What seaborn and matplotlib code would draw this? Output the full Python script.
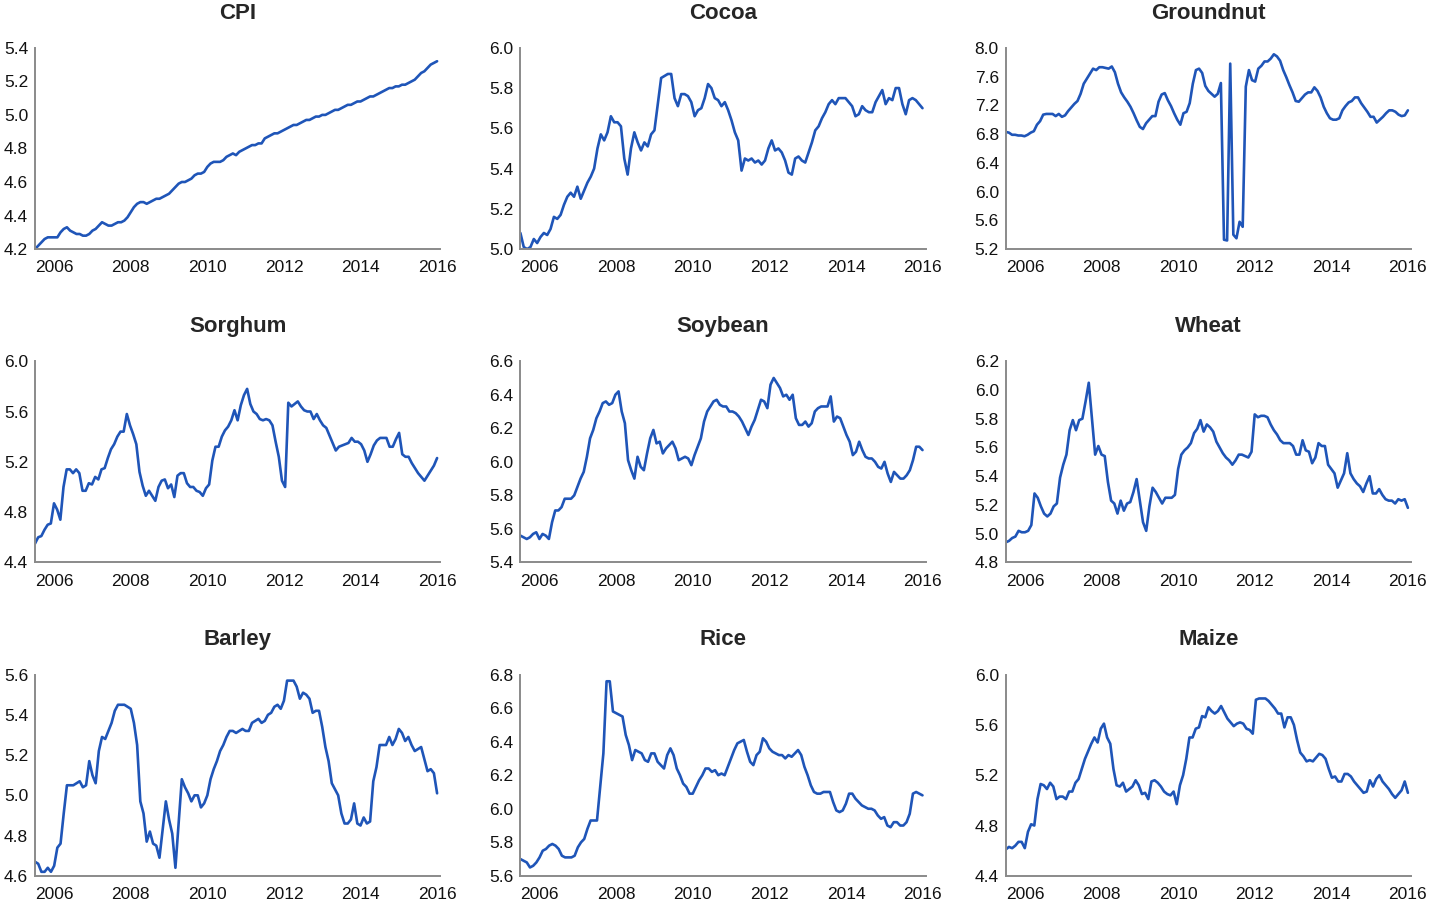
import matplotlib
matplotlib.use("Agg")
import matplotlib.pyplot as plt
import matplotlib.dates as mdates
import matplotlib.ticker as mticker
import seaborn as sns
import pandas as pd
import numpy as np

# monthly log index values, Jul 2005 .. Jan 2016
cpi = [4.20, 4.22, 4.24, 4.26, 4.27, 4.27,
       4.27, 4.27, 4.30, 4.32, 4.33, 4.31, 4.30, 4.29, 4.29, 4.28, 4.28, 4.29,
       4.31, 4.32, 4.34, 4.36, 4.35, 4.34, 4.34, 4.35, 4.36, 4.36, 4.37, 4.39,
       4.42, 4.45, 4.47, 4.48, 4.48, 4.47, 4.48, 4.49, 4.50, 4.50, 4.51, 4.52,
       4.53, 4.55, 4.57, 4.59, 4.60, 4.60, 4.61, 4.62, 4.64, 4.65, 4.65, 4.66,
       4.69, 4.71, 4.72, 4.72, 4.72, 4.73, 4.75, 4.76, 4.77, 4.76, 4.78, 4.79,
       4.80, 4.81, 4.82, 4.82, 4.83, 4.83, 4.86, 4.87, 4.88, 4.89, 4.89, 4.90,
       4.91, 4.92, 4.93, 4.94, 4.94, 4.95, 4.96, 4.97, 4.97, 4.98, 4.99, 4.99,
       5.00, 5.00, 5.01, 5.02, 5.03, 5.03, 5.04, 5.05, 5.06, 5.06, 5.07, 5.08,
       5.08, 5.09, 5.10, 5.11, 5.11, 5.12, 5.13, 5.14, 5.15, 5.16, 5.16, 5.17,
       5.17, 5.18, 5.18, 5.19, 5.20, 5.21, 5.23, 5.25, 5.26, 5.28, 5.30, 5.31,
       5.32]

cocoa = [5.08, 5.01, 5.00, 5.01, 5.05, 5.03, 5.06, 5.08, 5.07, 5.10, 5.16, 5.15,
         5.17, 5.22, 5.26, 5.28, 5.26, 5.31, 5.25, 5.29, 5.33, 5.36, 5.40, 5.50,
         5.57, 5.54, 5.58, 5.66, 5.63, 5.63, 5.61, 5.45, 5.37, 5.50, 5.58, 5.53,
         5.49, 5.53, 5.51, 5.57, 5.59, 5.72, 5.85, 5.86, 5.87, 5.87, 5.75, 5.71,
         5.77, 5.77, 5.76, 5.73, 5.66, 5.69, 5.70, 5.75, 5.82, 5.80, 5.75, 5.74,
         5.71, 5.73, 5.69, 5.64, 5.58, 5.54, 5.39, 5.45, 5.44, 5.45, 5.43, 5.44,
         5.42, 5.44, 5.50, 5.54, 5.49, 5.50, 5.48, 5.44, 5.38, 5.37, 5.45, 5.46,
         5.44, 5.43, 5.48, 5.53, 5.59, 5.61, 5.65, 5.68, 5.72, 5.74, 5.72, 5.75,
         5.75, 5.75, 5.73, 5.71, 5.66, 5.67, 5.71, 5.69, 5.68, 5.68, 5.73, 5.76,
         5.79, 5.72, 5.75, 5.74, 5.80, 5.80, 5.72, 5.67, 5.74, 5.75, 5.74, 5.72,
         5.70]

groundnut = [6.83, 6.82, 6.79, 6.79, 6.78, 6.78, 6.77, 6.79, 6.82, 6.84, 6.93, 6.98,
             7.07, 7.08, 7.08, 7.08, 7.05, 7.08, 7.04, 7.06, 7.12, 7.17, 7.22, 7.26,
             7.36, 7.50, 7.57, 7.64, 7.71, 7.69, 7.73, 7.73, 7.72, 7.71, 7.74, 7.66,
             7.50, 7.38, 7.31, 7.25, 7.18, 7.09, 6.99, 6.90, 6.87, 6.95, 7.00, 7.05,
             7.05, 7.25, 7.35, 7.37, 7.27, 7.19, 7.09, 7.00, 6.93, 7.09, 7.11, 7.23,
             7.50, 7.69, 7.71, 7.65, 7.47, 7.40, 7.36, 7.32, 7.36, 7.51, 5.33, 5.32,
             7.78, 5.40, 5.35, 5.58, 5.51, 7.46, 7.69, 7.55, 7.53, 7.71, 7.75, 7.81,
             7.81, 7.85, 7.91, 7.88, 7.82, 7.69, 7.59, 7.48, 7.38, 7.26, 7.25, 7.30,
             7.35, 7.38, 7.38, 7.45, 7.40, 7.31, 7.18, 7.09, 7.02, 7.00, 7.00, 7.02,
             7.13, 7.19, 7.24, 7.26, 7.31, 7.31, 7.23, 7.17, 7.11, 7.04, 7.04, 6.96,
             7.00, 7.04, 7.09, 7.13, 7.13, 7.11, 7.07, 7.05, 7.06, 7.13]

sorghum = [4.55, 4.60, 4.61, 4.66, 4.70, 4.71, 4.87, 4.82, 4.74, 5.00, 5.14, 5.14,
           5.11, 5.14, 5.11, 4.97, 4.97, 5.03, 5.02, 5.08, 5.06, 5.14, 5.15, 5.23,
           5.30, 5.34, 5.40, 5.44, 5.44, 5.58, 5.49, 5.42, 5.34, 5.12, 5.01, 4.93,
           4.97, 4.93, 4.89, 5.00, 5.05, 5.06, 4.99, 5.02, 4.92, 5.09, 5.11, 5.11,
           5.03, 5.00, 5.00, 4.97, 4.96, 4.93, 4.99, 5.02, 5.21, 5.32, 5.32, 5.40,
           5.45, 5.48, 5.53, 5.61, 5.53, 5.65, 5.73, 5.78, 5.66, 5.60, 5.58, 5.54,
           5.53, 5.54, 5.53, 5.49, 5.36, 5.24, 5.05, 5.00, 5.67, 5.64, 5.66, 5.68,
           5.64, 5.61, 5.60, 5.60, 5.54, 5.58, 5.53, 5.49, 5.47, 5.41, 5.35, 5.29,
           5.32, 5.33, 5.34, 5.35, 5.39, 5.36, 5.36, 5.34, 5.29, 5.20, 5.26, 5.33,
           5.37, 5.39, 5.39, 5.39, 5.32, 5.32, 5.38, 5.43, 5.26, 5.24, 5.24, 5.19,
           5.15, 5.11, 5.08, 5.05, 5.09, 5.13, 5.17, 5.23]

soybean = [5.56, 5.55, 5.54, 5.55, 5.57, 5.58, 5.54, 5.57, 5.56, 5.54, 5.64, 5.71,
           5.71, 5.73, 5.78, 5.78, 5.78, 5.80, 5.85, 5.90, 5.94, 6.03, 6.14, 6.19,
           6.26, 6.30, 6.35, 6.36, 6.34, 6.35, 6.40, 6.42, 6.30, 6.23, 6.01, 5.95,
           5.90, 6.03, 5.97, 5.95, 6.05, 6.14, 6.19, 6.11, 6.12, 6.05, 6.08, 6.10,
           6.12, 6.08, 6.01, 6.02, 6.03, 6.02, 5.98, 6.04, 6.09, 6.14, 6.24, 6.30,
           6.33, 6.36, 6.37, 6.34, 6.33, 6.33, 6.30, 6.30, 6.29, 6.27, 6.24, 6.20,
           6.16, 6.21, 6.25, 6.31, 6.37, 6.36, 6.32, 6.46, 6.50, 6.47, 6.44, 6.39,
           6.40, 6.37, 6.40, 6.26, 6.22, 6.22, 6.24, 6.21, 6.23, 6.30, 6.32, 6.33,
           6.33, 6.33, 6.39, 6.24, 6.27, 6.26, 6.21, 6.16, 6.12, 6.04, 6.06, 6.12,
           6.07, 6.03, 6.02, 6.02, 6.00, 5.97, 5.96, 6.00, 5.93, 5.88, 5.94, 5.92,
           5.90, 5.90, 5.92, 5.95, 6.01, 6.09, 6.09, 6.07]

wheat = [4.94, 4.95, 4.97, 4.98, 5.02, 5.01, 5.01, 5.02, 5.06, 5.28, 5.25, 5.19,
         5.14, 5.12, 5.14, 5.19, 5.21, 5.39, 5.48, 5.55, 5.72, 5.79, 5.72, 5.79,
         5.80, 5.92, 6.05, 5.80, 5.55, 5.61, 5.55, 5.54, 5.36, 5.23, 5.21, 5.14,
         5.23, 5.16, 5.21, 5.22, 5.29, 5.38, 5.23, 5.08, 5.02, 5.19, 5.32, 5.29,
         5.25, 5.21, 5.25, 5.25, 5.25, 5.27, 5.45, 5.55, 5.58, 5.60, 5.63, 5.70,
         5.73, 5.79, 5.71, 5.76, 5.74, 5.71, 5.64, 5.60, 5.56, 5.53, 5.51, 5.48,
         5.51, 5.55, 5.55, 5.54, 5.53, 5.57, 5.83, 5.81, 5.82, 5.82, 5.81, 5.76,
         5.72, 5.69, 5.65, 5.63, 5.63, 5.63, 5.61, 5.55, 5.55, 5.65, 5.58, 5.57,
         5.49, 5.53, 5.63, 5.61, 5.61, 5.48, 5.45, 5.42, 5.32, 5.37, 5.42, 5.56,
         5.42, 5.38, 5.35, 5.33, 5.29, 5.35, 5.40, 5.28, 5.28, 5.31, 5.27, 5.24,
         5.23, 5.23, 5.21, 5.24, 5.23, 5.24, 5.18]

barley = [4.67, 4.66, 4.62, 4.62, 4.64, 4.62, 4.65, 4.74, 4.76, 4.91, 5.05, 5.05,
          5.05, 5.06, 5.07, 5.04, 5.05, 5.17, 5.10, 5.06, 5.22, 5.29, 5.28, 5.32,
          5.36, 5.42, 5.45, 5.45, 5.45, 5.44, 5.43, 5.36, 5.25, 4.97, 4.91, 4.77,
          4.82, 4.76, 4.75, 4.69, 4.83, 4.97, 4.88, 4.81, 4.64, 4.86, 5.08, 5.04,
          5.01, 4.97, 5.00, 5.00, 4.94, 4.96, 5.00, 5.08, 5.13, 5.17, 5.22, 5.25,
          5.29, 5.32, 5.32, 5.31, 5.32, 5.33, 5.32, 5.32, 5.36, 5.37, 5.38, 5.36,
          5.37, 5.40, 5.41, 5.44, 5.45, 5.43, 5.47, 5.57, 5.57, 5.57, 5.54, 5.48,
          5.51, 5.50, 5.48, 5.41, 5.42, 5.42, 5.34, 5.24, 5.17, 5.06, 5.03, 5.00,
          4.91, 4.86, 4.86, 4.88, 4.96, 4.86, 4.85, 4.89, 4.86, 4.87, 5.07, 5.14,
          5.25, 5.25, 5.25, 5.29, 5.25, 5.28, 5.33, 5.31, 5.27, 5.29, 5.25, 5.22,
          5.23, 5.24, 5.18, 5.12, 5.13, 5.11, 5.01]

rice = [5.70, 5.69, 5.68, 5.65, 5.66, 5.68, 5.71, 5.75, 5.76, 5.78, 5.79, 5.78,
        5.76, 5.72, 5.71, 5.71, 5.71, 5.72, 5.77, 5.80, 5.82, 5.88, 5.93, 5.93,
        5.93, 6.13, 6.33, 6.76, 6.76, 6.58, 6.57, 6.56, 6.55, 6.44, 6.38, 6.29,
        6.35, 6.34, 6.33, 6.29, 6.28, 6.33, 6.33, 6.28, 6.26, 6.24, 6.32, 6.36,
        6.32, 6.24, 6.20, 6.15, 6.13, 6.09, 6.09, 6.13, 6.17, 6.20, 6.24, 6.24,
        6.22, 6.23, 6.20, 6.21, 6.20, 6.25, 6.30, 6.35, 6.39, 6.40, 6.41, 6.34,
        6.28, 6.26, 6.32, 6.34, 6.42, 6.40, 6.36, 6.34, 6.33, 6.32, 6.32, 6.30,
        6.32, 6.31, 6.33, 6.35, 6.32, 6.25, 6.20, 6.14, 6.10, 6.09, 6.09, 6.10,
        6.10, 6.10, 6.04, 5.99, 5.98, 5.99, 6.03, 6.09, 6.09, 6.06, 6.04, 6.02,
        6.01, 6.00, 6.00, 5.99, 5.96, 5.94, 5.95, 5.90, 5.89, 5.92, 5.92, 5.90,
        5.90, 5.92, 5.97, 6.09, 6.10, 6.09, 6.08]

maize = [4.61, 4.63, 4.62, 4.64, 4.67, 4.67, 4.62, 4.75, 4.81, 4.80, 5.01, 5.13,
         5.12, 5.09, 5.14, 5.11, 5.01, 5.03, 5.03, 5.01, 5.07, 5.07, 5.14, 5.17,
         5.25, 5.33, 5.39, 5.45, 5.50, 5.46, 5.57, 5.61, 5.50, 5.45, 5.25, 5.12,
         5.11, 5.14, 5.07, 5.09, 5.11, 5.16, 5.12, 5.05, 5.06, 5.01, 5.15, 5.16,
         5.14, 5.11, 5.07, 5.05, 5.04, 5.07, 4.97, 5.12, 5.20, 5.33, 5.50, 5.50,
         5.57, 5.58, 5.67, 5.66, 5.74, 5.71, 5.69, 5.71, 5.75, 5.70, 5.65, 5.62,
         5.59, 5.61, 5.62, 5.61, 5.57, 5.56, 5.53, 5.80, 5.81, 5.81, 5.81, 5.79,
         5.76, 5.73, 5.69, 5.69, 5.58, 5.66, 5.66, 5.60, 5.48, 5.38, 5.35, 5.31,
         5.32, 5.31, 5.34, 5.37, 5.36, 5.33, 5.25, 5.18, 5.19, 5.15, 5.15, 5.21,
         5.21, 5.19, 5.15, 5.12, 5.09, 5.06, 5.07, 5.16, 5.11, 5.17, 5.20, 5.15,
         5.12, 5.09, 5.05, 5.02, 5.05, 5.08, 5.15, 5.06]

titles = ["CPI", "Cocoa", "Groundnut", "Sorghum", "Soybean", "Wheat",
          "Barley", "Rice", "Maize"]
values = [cpi, cocoa, groundnut, sorghum, soybean, wheat, barley, rice, maize]
y_min = [4.2, 5.0, 5.2, 4.4, 5.4, 4.8, 4.6, 5.6, 4.4]
y_max = [5.4, 6.0, 8.0, 6.0, 6.6, 6.2, 5.6, 6.8, 6.0]
y_step = [0.2, 0.2, 0.4, 0.4, 0.2, 0.2, 0.2, 0.2, 0.4]

LINE = "#1f55b8"
SPINE = "#8a8a8a"

sns.set_style("white")
plt.rcParams["font.family"] = ["Liberation Sans", "DejaVu Sans"]

fig, axes = plt.subplots(3, 3, figsize=(14.29, 9.02), dpi=100)
fig.subplots_adjust(left=0.0245, right=0.9875, bottom=0.029, top=0.947,
                    wspace=0.1975, hspace=0.557)

for ax, name, vals, lo, hi, step in zip(axes.flat, titles, values, y_min, y_max, y_step):
    dates = pd.date_range("2005-07-01", "2016-01-01", periods=len(vals))
    df = pd.DataFrame({"date": dates, "value": vals})
    sns.lineplot(data=df, x="date", y="value", ax=ax, color=LINE, linewidth=1.9)

    ax.set_xlim(pd.Timestamp("2005-07-01"), pd.Timestamp("2016-02-01"))
    ax.set_ylim(lo, hi)
    ax.set_yticks(np.arange(lo, hi + step / 2, step))
    ax.yaxis.set_major_formatter(mticker.FormatStrFormatter("%.1f"))
    ax.xaxis.set_major_locator(mdates.YearLocator(2))
    ax.xaxis.set_major_formatter(mdates.DateFormatter("%Y"))

    ax.set_xlabel("")
    ax.set_ylabel("")
    ax.set_title(name, fontsize=16, fontweight="bold", pad=21)
    for side in ["top", "right"]:
        ax.spines[side].set_visible(False)
    for side in ["left", "bottom"]:
        ax.spines[side].set_color(SPINE)
        ax.spines[side].set_linewidth(1.4)
    ax.tick_params(axis="both", length=0, labelsize=12.5, colors="#111111")
    ax.tick_params(axis="x", pad=8)
    ax.tick_params(axis="y", pad=5)

plt.savefig("out.png", dpi=100)
